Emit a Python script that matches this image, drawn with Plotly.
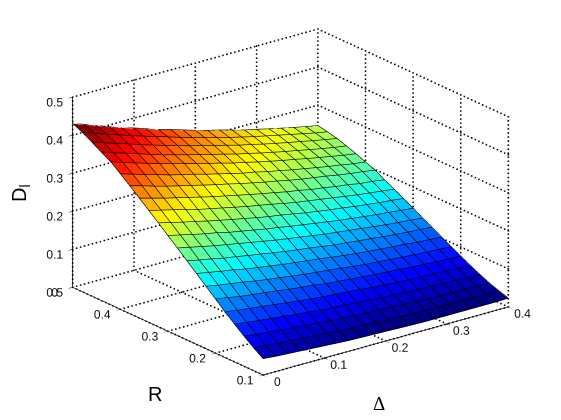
import plotly.graph_objects as go

delta = [0.00,0.02,0.04,0.06,0.08,0.10,0.12,0.14,0.16,0.18,0.20,0.22,0.24,0.26,0.28,0.30,0.32,0.34,0.36,0.38,0.40]
radius = [0.10,0.12,0.14,0.16,0.18,0.20,0.22,0.24,0.26,0.28,0.30,0.32,0.34,0.36,0.38,0.40,0.42,0.44,0.46,0.48,0.50]
d_l = [
 [.042,.039,.037,.035,.033,.031,.029,.027,.026,.025,.024,.023,.022,.021,.021,.021,.021,.021,.021,.021,.022],
 [.059,.056,.053,.051,.048,.046,.043,.041,.039,.038,.036,.035,.034,.032,.032,.031,.031,.031,.030,.030,.030],
 [.078,.074,.071,.068,.064,.062,.059,.056,.054,.051,.050,.048,.047,.045,.044,.042,.041,.041,.040,.039,.039],
 [.098,.094,.090,.086,.083,.079,.076,.072,.070,.068,.065,.063,.060,.058,.057,.055,.054,.052,.052,.050,.050],
 [.119,.114,.110,.106,.102,.098,.094,.090,.087,.085,.082,.079,.076,.073,.071,.069,.067,.066,.065,.063,.062],
 [.141,.136,.130,.126,.122,.118,.113,.109,.106,.101,.098,.095,.092,.089,.087,.085,.082,.080,.078,.076,.075],
 [.163,.157,.152,.147,.141,.136,.132,.127,.123,.119,.116,.112,.108,.104,.102,.099,.096,.094,.092,.090,.088],
 [.185,.179,.173,.168,.161,.156,.151,.146,.142,.138,.134,.129,.125,.121,.118,.115,.112,.110,.106,.104,.102],
 [.207,.200,.194,.187,.182,.176,.171,.165,.160,.155,.151,.146,.141,.138,.134,.131,.127,.124,.121,.119,.116],
 [.229,.222,.215,.208,.202,.196,.190,.184,.178,.173,.168,.163,.158,.154,.150,.146,.142,.138,.135,.132,.129],
 [.250,.243,.235,.228,.222,.214,.208,.202,.196,.191,.185,.180,.175,.170,.165,.161,.157,.153,.150,.146,.143],
 [.272,.264,.256,.249,.241,.234,.227,.221,.214,.208,.203,.197,.191,.186,.181,.177,.172,.168,.164,.161,.157],
 [.293,.285,.277,.269,.260,.253,.246,.239,.232,.226,.220,.213,.207,.202,.197,.192,.187,.182,.178,.174,.170],
 [.314,.305,.296,.288,.280,.272,.264,.257,.250,.243,.236,.230,.223,.218,.211,.207,.201,.197,.191,.188,.183],
 [.335,.326,.316,.307,.299,.291,.283,.275,.268,.260,.253,.246,.240,.233,.227,.222,.217,.211,.206,.202,.197],
 [.355,.345,.335,.326,.316,.308,.300,.291,.283,.275,.267,.261,.253,.247,.240,.234,.228,.222,.217,.211,.207],
 [.375,.364,.354,.344,.334,.326,.317,.308,.299,.291,.282,.275,.267,.260,.253,.247,.240,.234,.228,.222,.217],
 [.389,.378,.368,.358,.347,.337,.328,.319,.311,.302,.294,.285,.278,.270,.263,.256,.250,.243,.237,.231,.226],
 [.404,.393,.382,.372,.361,.351,.341,.332,.322,.314,.305,.297,.288,.281,.273,.266,.259,.253,.246,.240,.234],
 [.418,.406,.395,.384,.373,.363,.353,.343,.333,.323,.314,.305,.297,.289,.281,.274,.267,.260,.253,.246,.240],
 [.430,.418,.406,.394,.383,.373,.362,.351,.342,.332,.322,.313,.305,.296,.287,.280,.272,.265,.258,.251,.245],
]
delta_ticks = [0, 0.1, 0.2, 0.3, 0.4]
delta_labels = ["0", "0.1", "0.2", "0.3", "0.4"]
r_ticks = [0.1, 0.2, 0.3, 0.4, 0.5]
r_labels = ["0.1", "0.2", "0.3", "0.4", "0.5"]
z_ticks = [0, 0.1, 0.2, 0.3, 0.4, 0.5]
z_labels = ["0", "0.1", "0.2", "0.3", "0.4", "0.5"]

JET = [[0, "rgb(0,0,128)"], [0.125, "rgb(0,0,255)"], [0.375, "rgb(0,255,255)"],
       [0.625, "rgb(255,255,0)"], [0.875, "rgb(255,0,0)"], [1, "rgb(128,0,0)"]]

nr, nd = len(radius), len(delta)
vx, vy, vz, ti, tj, tk, cell = [], [], [], [], [], [], []
for r, row in zip(radius, d_l):
    for d, v in zip(delta, row):
        vx.append(d); vy.append(r); vz.append(v)
for a in range(nr - 1):
    for b in range(nd - 1):
        p = a * nd + b
        q = [p, p + 1, p + nd + 1, p + nd]
        c = (d_l[a][b] + d_l[a][b + 1] + d_l[a + 1][b] + d_l[a + 1][b + 1]) / 4
        ti += [q[0], q[0]]; tj += [q[1], q[2]]; tk += [q[2], q[3]]
        cell += [c, c]

fig = go.Figure()
fig.add_trace(go.Mesh3d(
    x=vx, y=vy, z=vz, i=ti, j=tj, k=tk, intensity=cell, intensitymode="cell",
    colorscale=JET, cmin=0.025, cmax=0.42, showscale=False, flatshading=True, hoverinfo="skip",
    lighting=dict(ambient=1, diffuse=0, specular=0, roughness=1, fresnel=0),
))

lx, ly, lz = [], [], []
LIFT = 0.0012
for r, row in zip(radius, d_l):
    lx += delta + [None]; ly += [r] * nd + [None]; lz += [v + LIFT for v in row] + [None]
for b, d in enumerate(delta):
    lx += [d] * nr + [None]; ly += radius + [None]; lz += [row[b] + LIFT for row in d_l] + [None]
fig.add_trace(go.Scatter3d(x=lx, y=ly, z=lz, mode="lines", line=dict(color="black", width=1.3),
                           hoverinfo="skip", showlegend=False))

# dotted box grid, one dot every few pixels
gx, gy, gz = [], [], []
def dotted(a, b, n):
    for s in range(n + 1):
        t = s / n
        gx.append(a[0] + (b[0] - a[0]) * t)
        gy.append(a[1] + (b[1] - a[1]) * t)
        gz.append(a[2] + (b[2] - a[2]) * t)
d0, d1 = delta_ticks[0], delta_ticks[-1]
r0, r1 = r_ticks[0], r_ticks[-1]
z0, z1 = z_ticks[0], z_ticks[-1]
ND, NR, NZ = 62, 52, 47
for d in delta_ticks:
    dotted((d, r0, z0), (d, r1, z0), NR); dotted((d, r1, z0), (d, r1, z1), NZ)
for r in r_ticks:
    dotted((d0, r, z0), (d1, r, z0), ND); dotted((d1, r, z0), (d1, r, z1), NZ)
for z in z_ticks:
    dotted((d0, r1, z), (d1, r1, z), ND); dotted((d1, r0, z), (d1, r1, z), NR)
fig.add_trace(go.Scatter3d(x=gx, y=gy, z=gz, mode="markers",
                           marker=dict(color="black", size=0.8, symbol="square", line=dict(width=0)),
                           hoverinfo="skip", showlegend=False))

def axis(rng, vals, text):
    return dict(range=rng, tickmode="array", tickvals=vals, ticktext=text, title=dict(text=""),
                showgrid=False, zeroline=False, showbackground=False, showline=True,
                linecolor="black", linewidth=1.5, ticks="outside", ticklen=5, tickwidth=1,
                tickcolor="black", showspikes=False, tickangle=0,
                tickfont=dict(family="Liberation Sans, Arial", size=12, color="#111"))

SCALE = 1.537
fig.update_layout(
    width=561, height=420, paper_bgcolor="white", showlegend=False,
    margin=dict(l=0, r=0, t=0, b=0),
    scene=dict(
        domain=dict(x=[20 / 561, 1], y=[16 / 420, 1]),
        xaxis=axis([d0, d1], delta_ticks, delta_labels),
        yaxis=axis([r0, r1], r_ticks, r_labels),
        zaxis=axis([z0, z1], z_ticks, z_labels),
        aspectmode="manual", aspectratio=dict(x=SCALE, y=SCALE, z=0.656 * SCALE),
        camera=dict(projection=dict(type="orthographic"), up=dict(x=0, y=0, z=1),
                    center=dict(x=0, y=0, z=0),
                    eye=dict(x=-0.573 * 2, y=-0.738 * 2, z=0.358 * 2)),
    ),
    annotations=[
        dict(text="R", x=155 / 561, y=1 - 394 / 420, xref="paper", yref="paper", showarrow=False,
             xanchor="center", yanchor="middle",
             font=dict(family="Liberation Sans, Arial", size=20, color="black")),
        dict(text="Δ", x=379 / 561, y=1 - 403 / 420, xref="paper", yref="paper", showarrow=False,
             xanchor="center", yanchor="middle",
             font=dict(family="Liberation Serif, DejaVu Serif", size=19, color="black")),
        dict(text="D<sub>l</sub>", x=21 / 561, y=1 - 193 / 420, xref="paper", yref="paper",
             showarrow=False, textangle=-90, xanchor="center", yanchor="middle",
             font=dict(family="Liberation Sans, Arial", size=20, color="black")),
    ],
)
fig.write_html("out.html", config=dict(displayModeBar=False),
               post_script="document.body.style.margin='0';")
